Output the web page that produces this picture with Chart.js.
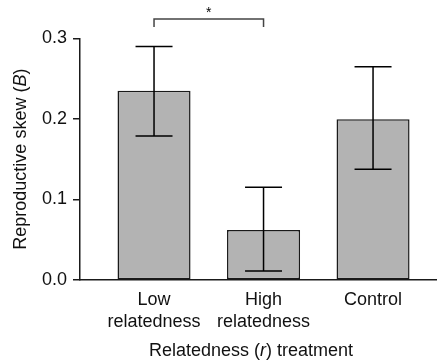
<!DOCTYPE html>
<html>
<head>
<meta charset="utf-8">
<script src="https://cdn.jsdelivr.net/npm/chart.js@4.4.1/dist/chart.umd.min.js"></script>
<style>
  html, body { margin: 0; padding: 0; background: #fff; }
  #wrap { width: 437px; height: 360px; position: relative; }
</style>
</head>
<body>
<div id="wrap"><canvas id="c"></canvas></div>
<script>
// ---- data ----
const categories = [['Low', 'relatedness'], ['High', 'relatedness'], ['Control']];
const values = [0.235, 0.062, 0.1995];
const errUpper = [0.2897, 0.115, 0.2648];
const errLower = [0.1787, 0.0112, 0.1374];
const yTicks = [0.0, 0.1, 0.2, 0.3];
const sigPairs = [[0, 1, '*']];
const sigLevel = 0.324;

const FONT = '"Liberation Sans", Arial, Helvetica, sans-serif';

const extras = {
  id: 'extras',
  afterDatasetsDraw(chart) {
    const ctx = chart.ctx;
    const xs = chart.scales.x, ys = chart.scales.y;
    ctx.save();
    // error bars
    ctx.strokeStyle = '#000';
    ctx.lineWidth = 1.5;
    const cap = 18.5;
    values.forEach((v, i) => {
      const px = xs.getPixelForValue(i);
      const yt = ys.getPixelForValue(errUpper[i]);
      const yb = ys.getPixelForValue(errLower[i]);
      ctx.beginPath();
      ctx.moveTo(px, yt); ctx.lineTo(px, yb);
      ctx.moveTo(px - cap, yt); ctx.lineTo(px + cap, yt);
      ctx.moveTo(px - cap, yb); ctx.lineTo(px + cap, yb);
      ctx.stroke();
    });
    // significance bracket
    ctx.strokeStyle = '#444';
    ctx.lineWidth = 1.5;
    sigPairs.forEach(([a, b, s]) => {
      const x1 = xs.getPixelForValue(a), x2 = xs.getPixelForValue(b);
      const y = ys.getPixelForValue(sigLevel);
      ctx.beginPath();
      ctx.moveTo(x1, y + 8); ctx.lineTo(x1, y); ctx.lineTo(x2, y); ctx.lineTo(x2, y + 8);
      ctx.stroke();
      ctx.fillStyle = '#000';
      ctx.font = '14px ' + FONT;
      ctx.textAlign = 'center';
      ctx.textBaseline = 'middle';
      ctx.fillText(s, (x1 + x2) / 2, y - 6);
    });
    ctx.restore();
  },
  afterDraw(chart) {
    const ctx = chart.ctx;
    const ca = chart.chartArea;
    const drawMixed = (parts, cx, cy) => {
      let total = 0;
      const widths = parts.map(([t, it]) => {
        ctx.font = (it ? 'italic ' : '') + '18px ' + FONT;
        const w = ctx.measureText(t).width; total += w; return w;
      });
      let x = cx - total / 2;
      parts.forEach(([t, it], k) => {
        ctx.font = (it ? 'italic ' : '') + '18px ' + FONT;
        ctx.fillText(t, x, cy);
        x += widths[k];
      });
    };
    ctx.save();
    ctx.fillStyle = '#111';
    ctx.textAlign = 'left';
    ctx.textBaseline = 'middle';
    // y title
    ctx.save();
    ctx.translate(21, (ca.top + ca.bottom) / 2);
    ctx.rotate(-Math.PI / 2);
    drawMixed([['Reproductive skew (', false], ['B', true], [')', false]], 0, 0);
    ctx.restore();
    // x title
    drawMixed([['Relatedness (', false], ['r', true], [') treatment', false]], 251, 351);
    ctx.restore();
  }
};

new Chart(document.getElementById('c'), {
  type: 'bar',
  data: {
    datasets: [{
      data: values.map((v, i) => ({ x: i, y: v })),
      backgroundColor: '#b3b3b3',
      borderColor: '#1a1a1a',
      borderWidth: 1.5,
      borderSkipped: false,
      barPercentage: 0.667,
      categoryPercentage: 1
    }]
  },
  options: {
    responsive: true,
    maintainAspectRatio: false,
    animation: false,
    layout: { padding: { top: 38.3, right: 0, left: 0, bottom: 0 } },
    plugins: { legend: { display: false }, tooltip: { enabled: false } },
    scales: {
      x: {
        type: 'linear',
        offset: false,
        min: -0.676,
        max: 2.584,
        afterBuildTicks(scale) { scale.ticks = categories.map((_, i) => ({ value: i })); },
        afterFit(scale) { scale.height = 80; },
        grid: { display: false, drawTicks: false, offset: false },
        border: { display: true, color: '#1a1a1a', width: 1.5 },
        ticks: {
          autoSkip: false,
          maxRotation: 0,
          padding: 9,
          color: '#111',
          font: { family: FONT, size: 18, lineHeight: 1.22 },
          callback: (v) => categories[v]
        }
      },
      y: {
        min: 0,
        max: 0.3,
        afterBuildTicks(scale) { scale.ticks = yTicks.map(v => ({ value: v })); },
        afterFit(scale) { scale.width = 80; },
        grid: { drawOnChartArea: false, tickLength: 7, color: '#1a1a1a', lineWidth: 1.5 },
        border: { display: true, color: '#1a1a1a', width: 1.5 },
        ticks: {
          padding: 6,
          color: '#111',
          font: { family: FONT, size: 18 },
          callback: (v) => v.toFixed(1)
        }
      }
    }
  },
  plugins: [extras]
});
</script>
</body>
</html>
